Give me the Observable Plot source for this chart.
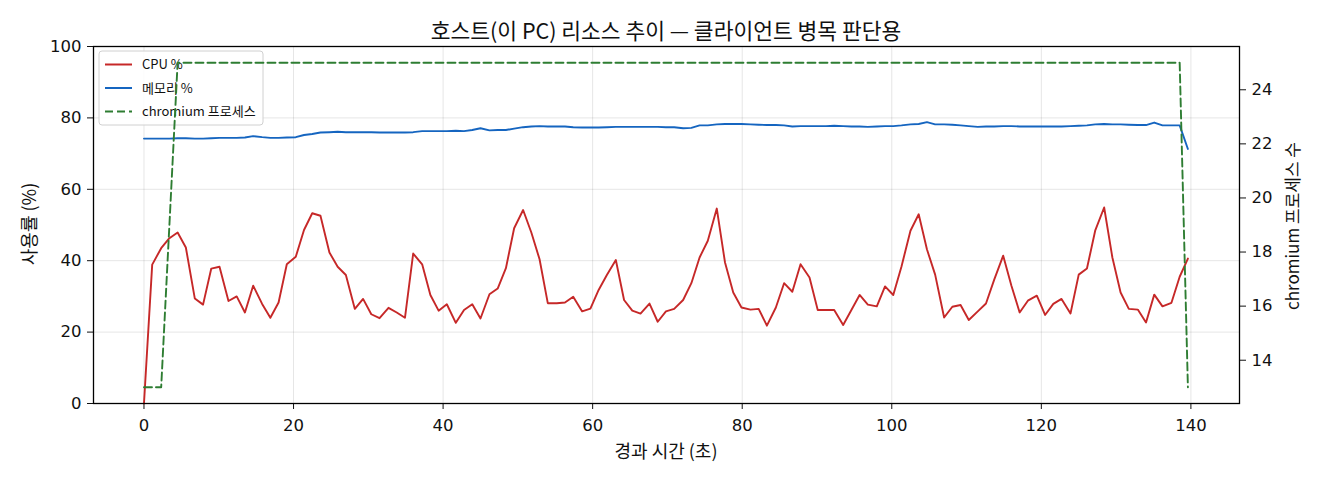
<!DOCTYPE html>
<html>
<head>
<meta charset="utf-8">
<script src="https://cdn.jsdelivr.net/npm/d3@7"></script>
<script src="https://cdn.jsdelivr.net/npm/@observablehq/plot@0.6"></script>
<style>
  html, body { margin: 0; padding: 0; background: #fff; }
  #wrap { position: relative; width: 1320px; height: 480px; font-family: "Noto Sans CJK KR", "Noto Sans", sans-serif; color: #111; }
  .lbl { position: absolute; white-space: nowrap; transform: translate(-50%, -50%); }
</style>
</head>
<body>
<div id="wrap">
  <div id="chart"></div>
  <div class="lbl" id="title" style="left:666px; top:29px; font-size:21.5px;"></div>
  <div class="lbl" id="xlabel" style="left:666px; top:450px; font-size:18px;"></div>
  <div class="lbl" id="ylabel" style="left:28px; top:224px; font-size:18px; transform: translate(-50%, -50%) rotate(-90deg);"></div>
  <div class="lbl" id="y2label" style="left:1291px; top:226px; font-size:17px; transform: translate(-50%, -50%) rotate(-90deg);"></div>
</div>
<script>
const titleText = "호스트(이 PC) 리소스 추이 — 클라이언트 병목 판단용";
const xLabel = "경과 시간 (초)";
const yLabel = "사용률 (%)";
const y2Label = "chromium 프로세스 수";
const seriesNames = ["CPU %", "메모리 %", "chromium 프로세스"];

const times = [
  0.0,1.1,2.3,3.4,4.5,5.6,6.8,7.9,9.0,10.1,
  11.3,12.4,13.5,14.6,15.8,16.9,18.0,19.1,20.3,21.4,
  22.5,23.6,24.8,25.9,27.0,28.2,29.3,30.4,31.5,32.7,
  33.8,34.9,36.0,37.2,38.3,39.4,40.5,41.7,42.8,43.9,
  45.0,46.2,47.3,48.4,49.5,50.7,51.8,52.9,54.0,55.2,
  56.3,57.4,58.6,59.7,60.8,61.9,63.1,64.2,65.3,66.4,
  67.6,68.7,69.8,70.9,72.1,73.2,74.3,75.4,76.6,77.7,
  78.8,79.9,81.1,82.2,83.3,84.5,85.6,86.7,87.8,89.0,
  90.1,91.2,92.3,93.5,94.6,95.7,96.8,98.0,99.1,100.2,
  101.3,102.5,103.6,104.7,105.8,107.0,108.1,109.2,110.3,111.5,
  112.6,113.7,114.9,116.0,117.1,118.2,119.4,120.5,121.6,122.7,
  123.9,125.0,126.1,127.2,128.4,129.5,130.6,131.7,132.9,134.0,
  135.1,136.2,137.4,138.5,139.6
];

const cpu = [
  0,38.9,43.5,46.3,47.9,43.7,29.4,27.7,37.8,38.3,
  28.7,30.0,25.5,33.0,27.9,24.0,28.3,39.0,41.1,48.6,
  53.3,52.6,42.3,38.3,36.0,26.5,29.3,25.0,23.9,26.8,
  25.5,24.0,42.0,39.0,30.4,26.0,27.8,22.6,26.2,27.8,
  23.8,30.6,32.2,37.9,49.1,54.2,47.9,40.4,28.1,28.1,
  28.3,29.9,25.8,26.6,31.8,36.0,40.2,29.0,26.0,25.2,
  28.0,22.9,25.8,26.5,29.0,33.7,40.9,45.6,54.6,39.5,
  31.1,26.9,26.3,26.5,21.8,26.9,33.7,31.3,39.0,35.3,
  26.2,26.2,26.2,22.0,26.2,30.4,27.7,27.2,32.8,30.4,
  38.4,48.4,53.0,43.2,36.1,24.1,27.1,27.6,23.4,25.8,
  28.0,34.7,41.4,33.0,25.5,28.8,30.2,24.8,27.9,29.3,
  25.2,36.1,37.8,48.4,54.9,40.9,31.1,26.5,26.3,22.7,
  30.5,27.2,28.2,35.5,40.6
];

const memory = [
  74.2,74.2,74.2,74.2,74.3,74.3,74.2,74.2,74.3,74.4,
  74.4,74.4,74.5,74.9,74.6,74.4,74.4,74.5,74.6,75.2,
  75.5,75.9,76.0,76.1,76.0,76.0,76.0,76.0,75.9,75.9,
  75.9,75.9,76.0,76.3,76.3,76.3,76.3,76.4,76.3,76.6,
  77.1,76.5,76.6,76.6,77.0,77.4,77.6,77.7,77.6,77.6,
  77.6,77.4,77.3,77.3,77.3,77.4,77.5,77.5,77.5,77.5,
  77.5,77.5,77.4,77.4,77.1,77.2,77.9,77.9,78.2,78.3,
  78.3,78.3,78.2,78.1,78.0,78.0,77.9,77.6,77.7,77.7,
  77.7,77.7,77.8,77.7,77.6,77.6,77.5,77.6,77.7,77.7,
  77.9,78.2,78.3,78.8,78.2,78.2,78.1,77.9,77.7,77.5,
  77.6,77.6,77.7,77.7,77.6,77.6,77.6,77.6,77.6,77.6,
  77.7,77.8,77.9,78.2,78.3,78.2,78.2,78.1,78.0,78.0,
  78.7,77.9,77.9,77.9,71.3
];

const chromium = [
  13,13,13,19,25,25,25,25,25,25,25,25,25,25,25,25,25,25,25,25,
  25,25,25,25,25,25,25,25,25,25,25,25,25,25,25,25,25,25,25,25,
  25,25,25,25,25,25,25,25,25,25,25,25,25,25,25,25,25,25,25,25,
  25,25,25,25,25,25,25,25,25,25,25,25,25,25,25,25,25,25,25,25,
  25,25,25,25,25,25,25,25,25,25,25,25,25,25,25,25,25,25,25,25,
  25,25,25,25,25,25,25,25,25,25,25,25,25,25,25,25,25,25,25,25,
  25,25,25,25,13
];

const xTicks = [0, 20, 40, 60, 80, 100, 120, 140];
const leftTicks = [0, 20, 40, 60, 80, 100];
const rightTicks = [14, 16, 18, 20, 22, 24];
const xDomain = [-6.75, 146.5];
const leftDomain = [0, 100];
const rightDomain = [12.4, 25.6];

const colors = ["#c62828", "#1565c0", "#2e7d32"];
const dashes = [null, null, "8,4"];
const tickFont = "'DejaVu Sans', sans-serif";

// map right-axis values onto the left-axis scale (dual axis)
const toLeft = v => (v - rightDomain[0]) / (rightDomain[1] - rightDomain[0]) * (leftDomain[1] - leftDomain[0]) + leftDomain[0];
const fromLeft = v => (v - leftDomain[0]) / (leftDomain[1] - leftDomain[0]) * (rightDomain[1] - rightDomain[0]) + rightDomain[0];

const rows = times.map((t, i) => ({t, cpu: cpu[i], mem: memory[i], chr: toLeft(chromium[i])}));

function legendMark() {
  const g = d3.create("svg:g");
  g.append("rect")
    .attr("x", 99).attr("y", 51).attr("width", 164).attr("height", 74)
    .attr("rx", 3).attr("fill", "white").attr("fill-opacity", 0.85)
    .attr("stroke", "#d0d0d0").attr("stroke-width", 1);
  seriesNames.forEach((name, k) => {
    const y = 64.5 + k * 23.5;
    g.append("line")
      .attr("x1", 105).attr("x2", 132).attr("y1", y).attr("y2", y)
      .attr("stroke", colors[k]).attr("stroke-width", 2)
      .attr("stroke-dasharray", dashes[k]);
    g.append("text")
      .attr("x", 142).attr("y", y).attr("dy", "0.35em")
      .attr("text-anchor", "start")
      .attr("font-size", 13).attr("fill", "#111")
      .text(name);
  });
  return g.node();
}

const chart = Plot.plot({
  width: 1320,
  height: 480,
  marginLeft: 93,
  marginRight: 81,
  marginTop: 46,
  marginBottom: 77,
  style: {fontFamily: "'Noto Sans CJK KR', 'Noto Sans', sans-serif", fontSize: "16px", color: "#111", background: "white", overflow: "visible"},
  x: {domain: xDomain, label: null},
  y: {domain: leftDomain, label: null},
  marks: [
    Plot.gridX(xTicks, {stroke: "#000", strokeOpacity: 0.1, strokeWidth: 1}),
    Plot.gridY(leftTicks, {stroke: "#000", strokeOpacity: 0.1, strokeWidth: 1}),
    Plot.axisX(xTicks, {tickSize: 6, tickPadding: 10, label: null, fontSize: 16.5, fontFamily: tickFont}),
    Plot.axisY(leftTicks, {anchor: "left", tickSize: 6, tickPadding: 6, label: null, fontSize: 16.5, fontFamily: tickFont}),
    Plot.axisY(rightTicks.map(toLeft), {anchor: "right", tickSize: 6, tickPadding: 6, label: null, fontSize: 16.5, fontFamily: tickFont,
      tickFormat: d => String(Math.round(fromLeft(d)))}),
    Plot.line(rows, {x: "t", y: "cpu", stroke: colors[0], strokeWidth: 1.9}),
    Plot.line(rows, {x: "t", y: "mem", stroke: colors[1], strokeWidth: 1.9}),
    legendMark,
    Plot.line(rows, {x: "t", y: "chr", stroke: colors[2], strokeWidth: 1.9, strokeDasharray: "8,4"}),
    Plot.frame({stroke: "#000", strokeWidth: 1.3})
  ]
});

document.getElementById("chart").appendChild(chart);
document.getElementById("title").textContent = titleText;
document.getElementById("xlabel").textContent = xLabel;
document.getElementById("ylabel").textContent = yLabel;
document.getElementById("y2label").textContent = y2Label;
</script>
</body>
</html>
